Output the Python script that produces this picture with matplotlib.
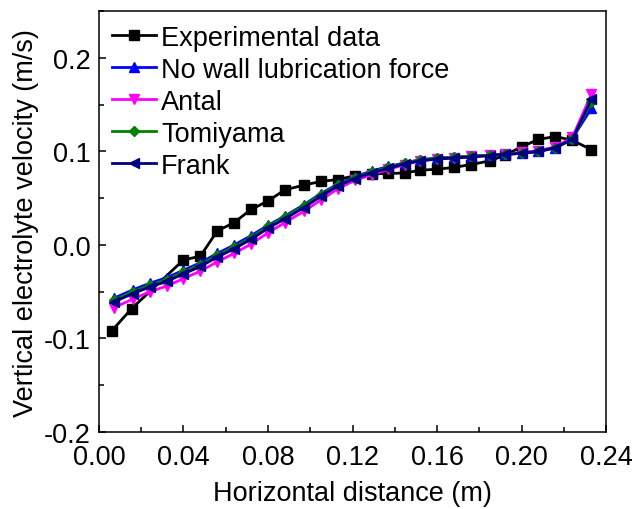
import numpy as np
import matplotlib.pyplot as plt
from matplotlib.ticker import MultipleLocator

plt.rcParams['font.family'] = ['Liberation Sans', 'DejaVu Sans']
plt.rcParams['font.size'] = 19.5

# horizontal positions (m)
x_exp = [0.006, 0.0155, 0.040, 0.048, 0.056, 0.064, 0.072, 0.080,
         0.088, 0.097, 0.105, 0.113, 0.121, 0.129, 0.137, 0.145, 0.152, 0.160,
         0.168, 0.176, 0.185, 0.192, 0.200, 0.208, 0.216, 0.224, 0.233]
x_sim = [0.007, 0.0160, 0.024, 0.032, 0.040, 0.048, 0.056, 0.064, 0.072, 0.080,
         0.088, 0.097, 0.105, 0.113, 0.121, 0.129, 0.137, 0.145, 0.152, 0.160,
         0.168, 0.176, 0.185, 0.192, 0.200, 0.208, 0.216, 0.224, 0.233]

# vertical electrolyte velocity (m/s)
exp_data = [-0.092, -0.068, -0.016, -0.012, 0.015, 0.024, 0.038, 0.047,
            0.059, 0.064, 0.068, 0.070, 0.074, 0.076, 0.0765, 0.077, 0.080, 0.081,
            0.083, 0.086, 0.090, 0.096, 0.105, 0.113, 0.116, 0.112, 0.102]
no_wall = [-0.057, -0.048, -0.041, -0.035, -0.027, -0.019, -0.009, 0.000, 0.010, 0.021,
           0.031, 0.043, 0.055, 0.065, 0.073, 0.079, 0.084, 0.088, 0.091, 0.093,
           0.094, 0.095, 0.096, 0.097, 0.098, 0.100, 0.104, 0.114, 0.146]
antal = [-0.067, -0.058, -0.050, -0.044, -0.036, -0.028, -0.018, -0.009, 0.001, 0.013,
         0.024, 0.036, 0.048, 0.060, 0.069, 0.075, 0.081, 0.086, 0.090, 0.092,
         0.093, 0.095, 0.096, 0.097, 0.099, 0.101, 0.105, 0.115, 0.161]
tomiyama = [-0.059, -0.050, -0.043, -0.037, -0.029, -0.021, -0.011, -0.002, 0.008, 0.020,
            0.030, 0.042, 0.054, 0.064, 0.072, 0.078, 0.083, 0.088, 0.091, 0.093,
            0.094, 0.095, 0.096, 0.097, 0.098, 0.100, 0.104, 0.113, 0.153]
frank = [-0.061, -0.052, -0.045, -0.039, -0.031, -0.023, -0.013, -0.004, 0.006, 0.018,
         0.028, 0.040, 0.052, 0.063, 0.071, 0.077, 0.082, 0.087, 0.090, 0.092,
         0.093, 0.094, 0.0955, 0.097, 0.098, 0.100, 0.104, 0.113, 0.156]

fig, ax = plt.subplots(figsize=(6.34, 5.10), dpi=100)
fig.subplots_adjust(left=0.156, right=0.956, bottom=0.151, top=0.976)

lw = 2.0
ax.plot(x_exp, exp_data, color='black', marker='s', ms=6.5, lw=lw, label='Experimental data')
ax.plot(x_sim, no_wall, color='#0000ff', marker='^', ms=7, lw=lw, label='No wall lubrication force')
ax.plot(x_sim, antal, color='#ff00ff', marker='v', ms=7, lw=lw, label='Antal')
ax.plot(x_sim, tomiyama, color='#008000', marker='D', ms=5, lw=lw, label='Tomiyama')
ax.plot(x_sim, frank, color='#000080', marker='<', ms=7, lw=lw, label='Frank')

ax.set_xlim(0, 0.24)
ax.set_ylim(-0.2, 0.25)
ax.xaxis.set_major_locator(MultipleLocator(0.04))
ax.xaxis.set_minor_locator(MultipleLocator(0.02))
ax.yaxis.set_major_locator(MultipleLocator(0.1))
ax.yaxis.set_minor_locator(MultipleLocator(0.05))
ax.set_xticklabels([f'{v:.2f}' for v in ax.get_xticks()])
ax.set_yticks(np.arange(-0.2, 0.21, 0.1))
ax.set_yticklabels(['-0.2', '-0.1', '0.0', '0.1', '0.2'])

ax.tick_params(which='both', direction='in', top=False, right=False, width=1.1)
ax.tick_params(which='major', length=5)
ax.tick_params(axis='x', which='major', pad=9)
ax.tick_params(axis='y', which='major', pad=6)
ax.tick_params(which='minor', length=3.5)
for s in ax.spines.values():
    s.set_linewidth(1.1)

ax.set_xlabel('Horizontal distance (m)', labelpad=7)
ax.set_ylabel('Vertical electrolyte velocity (m/s)', labelpad=3)

ax.legend(loc='upper left', frameon=False, handlelength=1.6, handletextpad=0.2,
          labelspacing=0.22, borderaxespad=0.2, borderpad=0.3)

fig.savefig('out.png', dpi=100)
